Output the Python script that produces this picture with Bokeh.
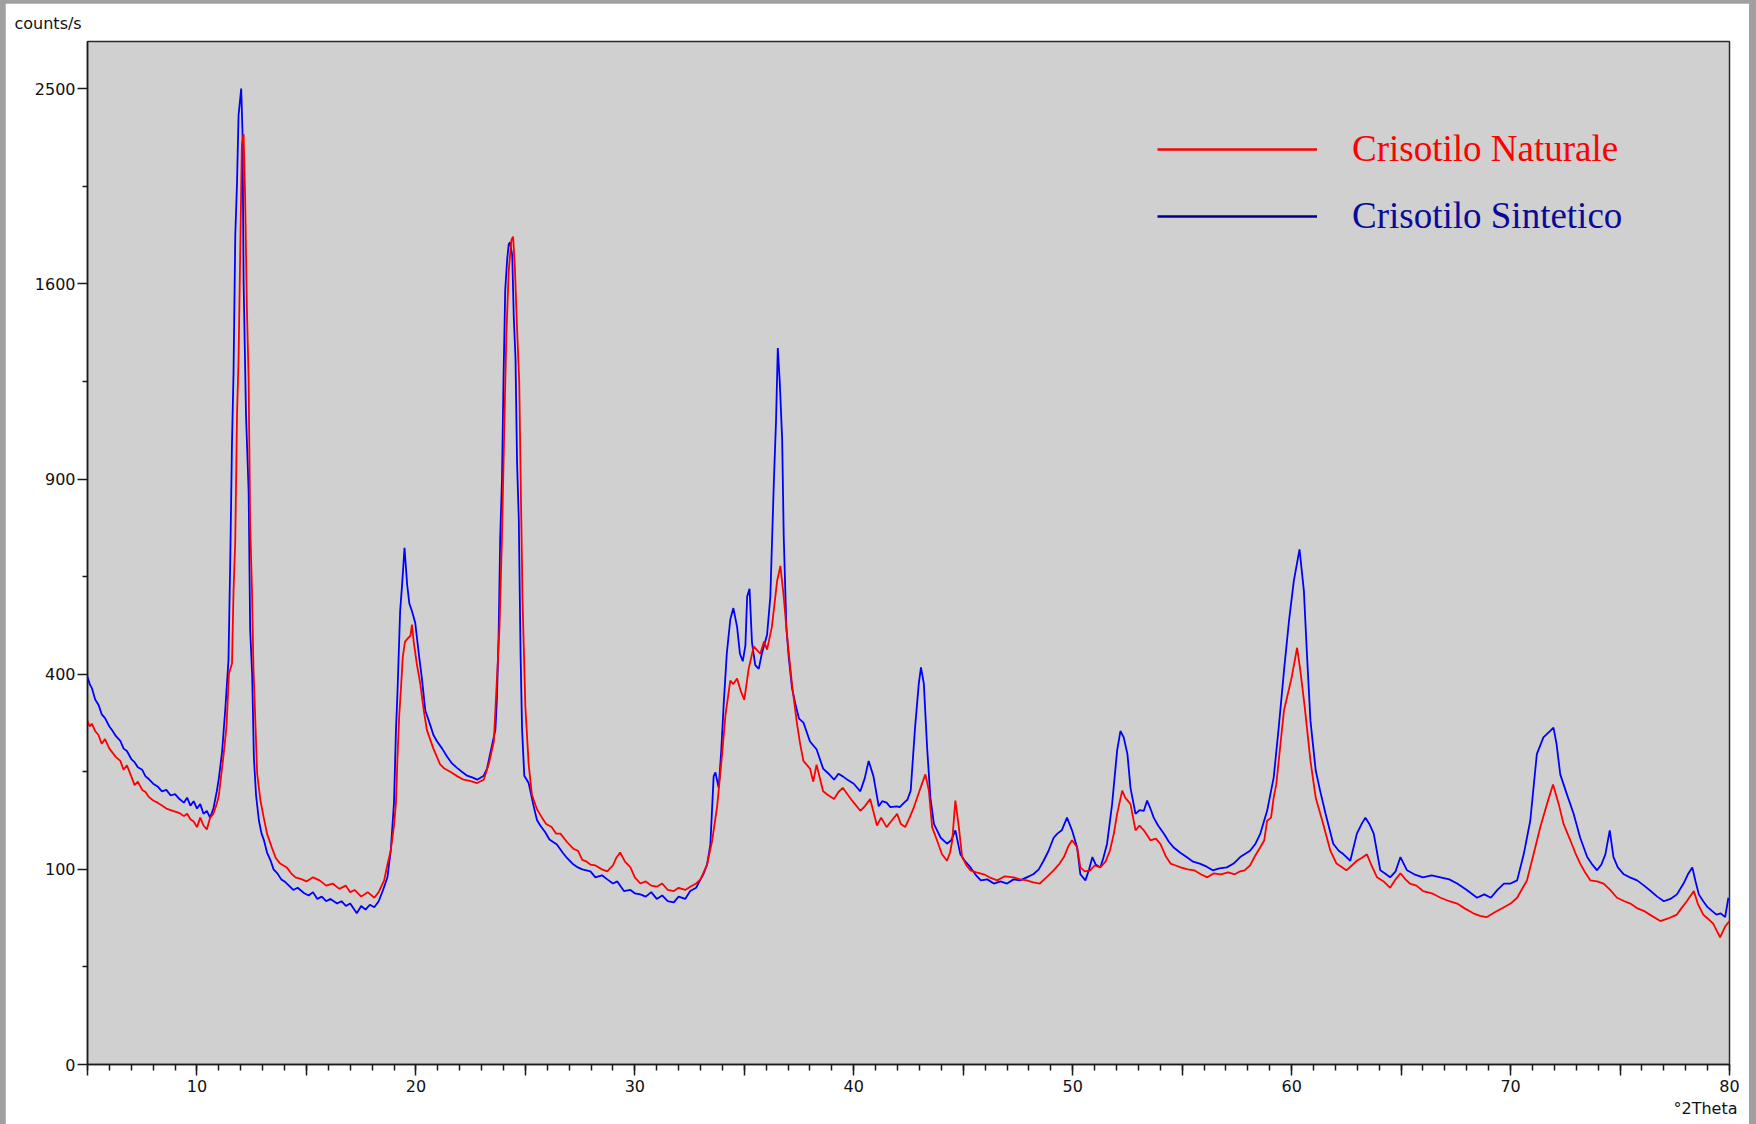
import numpy as np
from bokeh.plotting import figure
from bokeh.models import FixedTicker, Legend, LegendItem, Range1d, Title
from bokeh.layouts import column
from bokeh.embed import file_html
from bokeh.resources import INLINE

# ---------------- data ----------------
theta_sin = [5.0, 5.1, 5.2, 5.35, 5.5, 5.65, 5.8, 6.0, 6.15, 6.3, 6.5, 6.65, 6.8, 7.0, 7.15, 7.3, 7.5, 7.65, 7.8, 8.0,
             8.2, 8.4, 8.6, 8.8, 9.0, 9.2, 9.4, 9.55, 9.7, 9.85, 10.0, 10.15, 10.3, 10.45, 10.6, 10.75, 10.9, 11.0, 11.15, 11.3,
             11.44, 11.52, 11.6, 11.67, 11.75, 11.83, 11.9, 12.02, 12.08, 12.13, 12.24, 12.36, 12.43, 12.52, 12.6, 12.7, 12.83, 12.95, 13.06, 13.2,
             13.35, 13.5, 13.67, 13.85, 14.0, 14.2, 14.4, 14.6, 14.9, 15.1, 15.3, 15.5, 15.7, 15.9, 16.1, 16.4, 16.6, 16.8, 17.0, 17.3,
             17.5, 17.7, 17.9, 18.1, 18.3, 18.5, 18.7, 18.85, 19.0, 19.09, 19.16, 19.28, 19.36, 19.48, 19.6, 19.7, 19.82, 19.97, 20.13, 20.28,
             20.43, 20.66, 20.8, 20.97, 21.2, 21.42, 21.65, 21.88, 22.1, 22.34, 22.6, 22.8, 23.1, 23.25, 23.4, 23.63, 23.7, 23.78, 23.85, 23.93,
             24.0, 24.08, 24.17, 24.24, 24.3, 24.4, 24.47, 24.55, 24.62, 24.7, 24.78, 24.85, 24.95, 25.15, 25.38, 25.53, 25.68, 25.9, 26.1, 26.44,
             26.7, 26.9, 27.2, 27.4, 27.6, 27.97, 28.2, 28.5, 28.74, 29.0, 29.2, 29.5, 29.8, 30.0, 30.25, 30.5, 30.75, 31.0, 31.25, 31.5,
             31.78, 32.0, 32.3, 32.53, 32.8, 33.0, 33.15, 33.3, 33.45, 33.6, 33.68, 33.83, 33.95, 34.06, 34.2, 34.36, 34.5, 34.67, 34.8, 34.93,
             35.05, 35.13, 35.24, 35.35, 35.5, 35.66, 35.8, 36.04, 36.19, 36.35, 36.45, 36.53, 36.62, 36.73, 36.8, 36.92, 37.03, 37.18, 37.33, 37.5,
             37.7, 38.0, 38.3, 38.6, 38.85, 39.1, 39.3, 39.5, 39.75, 40.0, 40.3, 40.5, 40.68, 40.9, 41.14, 41.3, 41.5, 41.67, 41.98, 42.1,
             42.3, 42.45, 42.6, 42.8, 42.97, 43.07, 43.2, 43.35, 43.5, 43.66, 43.97, 44.26, 44.45, 44.64, 44.87, 45.1, 45.33, 45.55, 45.8, 46.1,
             46.4, 46.7, 47.0, 47.3, 47.6, 47.9, 48.2, 48.45, 48.67, 48.9, 49.13, 49.3, 49.5, 49.74, 49.97, 50.2, 50.35, 50.58, 50.75, 50.9,
             51.05, 51.26, 51.4, 51.57, 51.8, 52.03, 52.18, 52.33, 52.5, 52.64, 52.87, 53.05, 53.25, 53.4, 53.55, 53.7, 53.9, 54.16, 54.4, 54.6,
             54.9, 55.2, 55.5, 55.8, 56.1, 56.4, 56.7, 57.04, 57.35, 57.65, 57.85, 58.1, 58.35, 58.57, 58.88, 59.18, 59.41, 59.65, 59.88, 60.1,
             60.36, 60.56, 60.7, 60.86, 61.1, 61.3, 61.55, 61.9, 62.15, 62.37, 62.68, 62.98, 63.2, 63.37, 63.55, 63.75, 64.05, 64.25, 64.5, 64.75,
             64.97, 65.27, 65.6, 66.0, 66.4, 66.8, 67.2, 67.56, 68.0, 68.47, 68.8, 69.1, 69.4, 69.7, 70.0, 70.3, 70.6, 70.9, 71.2, 71.5,
             71.8, 71.96, 72.1, 72.27, 72.57, 72.88, 73.18, 73.5, 73.7, 73.95, 74.15, 74.33, 74.53, 74.7, 74.9, 75.17, 75.45, 75.78, 76.1, 76.4,
             76.7, 77.0, 77.3, 77.6, 77.9, 78.1, 78.3, 78.45, 78.6, 78.8, 79.0, 79.2, 79.4, 79.6, 79.8, 79.95]
counts_sin = [395, 380, 372, 350, 340, 322, 315, 300, 292, 283, 275, 262, 258, 245, 240, 232, 228, 218, 214, 207,
              203, 196, 198, 190, 192, 185, 180, 187, 176, 182, 172, 178, 165, 169, 160, 172, 195, 215, 258, 335,
              430, 666, 1017, 1255, 1804, 2044, 2366, 2501, 2283, 1609, 1108, 861, 496, 400, 247, 190, 156, 140, 132, 118,
              110, 100, 96, 90, 88, 84, 80, 82, 77, 75, 78, 72, 74, 70, 72, 68, 70, 66, 68, 60,
              66, 63, 67, 65, 70, 80, 92, 120, 180, 294, 365, 540, 597, 701, 605, 558, 540, 512, 444, 389,
              329, 302, 285, 274, 262, 249, 238, 231, 225, 219, 216, 213, 219, 230, 255, 294, 351, 487, 727, 894,
              1224, 1575, 1703, 1767, 1775, 1720, 1468, 1307, 953, 780, 444, 294, 219, 208, 175, 157, 150, 142, 133, 127,
              118, 112, 105, 102, 100, 98, 92, 94, 90, 86, 88, 79, 80, 77, 76, 74, 78, 72, 75, 70,
              69, 74, 72, 79, 82, 90, 96, 105, 127, 218, 224, 201, 260, 342, 443, 520, 547, 503, 443, 427,
              461, 575, 594, 468, 419, 411, 443, 485, 575, 891, 1089, 1348, 1223, 1025, 735, 503, 435, 372, 342, 314,
              307, 274, 261, 230, 222, 213, 222, 218, 212, 207, 196, 215, 242, 218, 175, 182, 180, 174, 175, 174,
              180, 184, 197, 298, 381, 414, 381, 264, 187, 152, 135, 128, 132, 144, 116, 108, 102, 95, 89, 90,
              86, 88, 86, 90, 89, 92, 95, 100, 109, 120, 135, 140, 144, 160, 144, 124, 95, 89, 100, 113,
              105, 102, 112, 128, 178, 259, 292, 281, 253, 201, 165, 170, 169, 183, 172, 160, 150, 140, 130, 124,
              118, 113, 108, 106, 103, 99, 101, 102, 106, 113, 116, 120, 128, 140, 169, 216, 298, 407, 517, 614,
              697, 589, 442, 310, 227, 197, 165, 128, 120, 116, 109, 140, 152, 160, 152, 140, 99, 96, 92, 98,
              113, 99, 95, 92, 94, 92, 90, 86, 80, 73, 76, 73, 80, 86, 86, 89, 116, 156, 253, 281,
              292, 298, 270, 221, 192, 165, 135, 113, 106, 99, 105, 116, 144, 113, 102, 95, 92, 89, 84, 79,
              74, 70, 72, 76, 86, 95, 102, 88, 76, 70, 65, 62, 59, 60, 57, 73]

theta_nat = [5.0, 5.1, 5.2, 5.35, 5.5, 5.65, 5.8, 6.0, 6.15, 6.3, 6.5, 6.65, 6.8, 7.0, 7.15, 7.3, 7.5, 7.65, 7.8, 8.0,
             8.2, 8.4, 8.6, 8.8, 9.0, 9.2, 9.4, 9.55, 9.7, 9.85, 10.0, 10.15, 10.3, 10.45, 10.6, 10.75, 10.9, 11.0, 11.2, 11.35,
             11.46, 11.6, 11.67, 11.75, 11.83, 11.9, 11.98, 12.05, 12.13, 12.2, 12.28, 12.36, 12.43, 12.51, 12.58, 12.75, 12.9, 13.05, 13.2, 13.4,
             13.6, 13.8, 14.1, 14.3, 14.5, 14.8, 15.0, 15.3, 15.6, 15.9, 16.2, 16.5, 16.8, 17.0, 17.2, 17.5, 17.8, 18.1, 18.3, 18.55,
             18.7, 18.85, 19.0, 19.09, 19.16, 19.24, 19.32, 19.4, 19.5, 19.6, 19.75, 19.82, 19.9, 20.05, 20.2, 20.36, 20.5, 20.8, 21.1, 21.3,
             21.57, 21.9, 22.18, 22.5, 22.8, 23.1, 23.33, 23.56, 23.7, 23.82, 23.93, 24.03, 24.13, 24.24, 24.36, 24.44, 24.52, 24.62, 24.72, 24.8,
             24.87, 25.0, 25.15, 25.3, 25.53, 25.76, 25.95, 26.2, 26.4, 26.6, 26.9, 27.2, 27.4, 27.6, 27.8, 27.97, 28.2, 28.5, 28.74, 29.0,
             29.15, 29.33, 29.55, 29.8, 30.0, 30.25, 30.5, 30.75, 31.0, 31.25, 31.5, 31.78, 32.0, 32.3, 32.53, 32.8, 33.0, 33.3, 33.53, 33.76,
             33.99, 34.14, 34.36, 34.5, 34.67, 34.85, 35.0, 35.2, 35.43, 35.6, 35.73, 35.9, 36.04, 36.26, 36.5, 36.65, 36.8, 36.95, 37.18, 37.4,
             37.55, 37.7, 38.0, 38.15, 38.3, 38.6, 38.85, 39.1, 39.3, 39.5, 39.75, 40.0, 40.3, 40.5, 40.75, 41.06, 41.25, 41.5, 41.7, 41.98,
             42.15, 42.35, 42.55, 42.75, 43.05, 43.27, 43.43, 43.58, 43.8, 44.03, 44.26, 44.4, 44.5, 44.64, 44.8, 44.95, 45.15, 45.33, 45.6, 45.94,
             46.2, 46.55, 46.9, 47.3, 47.6, 47.9, 48.2, 48.5, 48.8, 49.13, 49.4, 49.6, 49.8, 49.97, 50.2, 50.35, 50.55, 50.8, 51.0, 51.26,
             51.5, 51.7, 51.88, 52.03, 52.26, 52.4, 52.64, 52.87, 53.05, 53.25, 53.55, 53.8, 54.0, 54.25, 54.47, 54.7, 54.93, 55.25, 55.55, 55.85,
             56.15, 56.45, 56.77, 57.1, 57.4, 57.65, 57.85, 58.1, 58.3, 58.57, 58.75, 58.88, 59.06, 59.18, 59.3, 59.41, 59.65, 60.0, 60.25, 60.4,
             60.6, 60.86, 61.1, 61.4, 61.77, 62.05, 62.5, 62.75, 62.98, 63.2, 63.44, 63.65, 63.9, 64.2, 64.5, 64.75, 64.97, 65.2, 65.4, 65.7,
             66.0, 66.4, 66.8, 67.2, 67.56, 67.9, 68.3, 68.6, 68.9, 69.3, 69.7, 70.0, 70.3, 70.5, 70.75, 71.05, 71.36, 71.66, 71.94, 72.2,
             72.42, 72.73, 72.95, 73.18, 73.4, 73.65, 73.95, 74.25, 74.55, 74.86, 75.2, 75.47, 75.8, 76.08, 76.45, 76.84, 77.2, 77.6, 77.8, 78.05,
             78.37, 78.55, 78.8, 79.0, 79.26, 79.45, 79.57, 79.8, 80.0]
counts_nat = [310, 300, 305, 292, 285, 270, 278, 262, 255, 248, 242, 228, 235, 218, 205, 210, 198, 195, 188, 183,
              180, 176, 172, 170, 168, 166, 162, 165, 158, 155, 148, 160, 150, 145, 160, 165, 178, 190, 247, 300,
              401, 422, 589, 723, 1108, 1310, 1755, 2224, 2273, 1975, 1503, 1233, 766, 597, 413, 222, 183, 160, 140, 125,
              112, 106, 102, 96, 92, 90, 88, 92, 89, 84, 86, 81, 84, 78, 80, 74, 78, 73, 78, 89,
              105, 120, 150, 180, 249, 321, 373, 436, 469, 475, 483, 508, 469, 419, 381, 329, 294, 262, 237, 230,
              225, 218, 213, 211, 208, 213, 237, 274, 389, 503, 727, 1041, 1394, 1654, 1784, 1800, 1670, 1424, 1224, 837,
              567, 336, 237, 191, 171, 160, 152, 148, 140, 140, 130, 122, 120, 110, 108, 105, 104, 100, 98, 104,
              112, 118, 108, 102, 92, 86, 88, 84, 83, 86, 80, 79, 82, 80, 83, 86, 90, 105, 131, 175,
              254, 321, 387, 380, 391, 365, 349, 411, 459, 450, 443, 470, 452, 503, 614, 653, 575, 485, 379, 307,
              270, 242, 230, 210, 236, 196, 190, 185, 195, 201, 190, 180, 169, 175, 185, 150, 160, 148, 155, 165,
              152, 148, 160, 174, 201, 221, 197, 148, 132, 116, 109, 118, 132, 183, 148, 113, 104, 99, 97, 95,
              92, 89, 93, 92, 90, 89, 87, 86, 92, 99, 106, 113, 125, 132, 124, 102, 98, 99, 104, 102,
              108, 120, 140, 165, 197, 187, 178, 144, 150, 144, 132, 134, 128, 114, 106, 104, 102, 100, 99, 95,
              92, 96, 95, 97, 95, 98, 99, 104, 113, 124, 132, 156, 160, 187, 206, 242, 329, 393, 456, 407,
              335, 242, 187, 156, 120, 106, 99, 104, 109, 112, 116, 104, 92, 88, 82, 90, 96, 90, 86, 84,
              79, 77, 73, 70, 68, 64, 60, 58, 57, 61, 65, 68, 73, 80, 89, 116, 148, 178, 206, 178,
              152, 132, 118, 106, 97, 89, 88, 86, 80, 73, 70, 68, 64, 62, 58, 54, 56, 59, 64, 70,
              79, 68, 59, 56, 52, 46, 42.5, 50, 54]

series_names = ["Crisotilo Naturale", "Crisotilo Sintetico"]
x_major_ticks = list(range(5, 81, 5))
x_minor_ticks = list(range(5, 81))
x_label_every = 10
y_tick_counts = [0, 100, 400, 900, 1600, 2500]
y_minor_counts = [25, 225, 625, 1225, 2025]
y_top_counts = 2748
y_caption = "counts/s"
x_caption = "°2Theta"

# ---------------- figure ----------------
p = figure(width=1744, height=1121, output_backend="svg", toolbar_location=None,
           x_range=Range1d(5, 80), y_range=Range1d(0, float(np.sqrt(y_top_counts))),
           min_border_left=82, min_border_right=20, min_border_top=37, min_border_bottom=60,
           background_fill_color="#D0D0D0", border_fill_color="white",
           outline_line_color="#2a2a2a", outline_line_width=1.5)
p.title.text = y_caption
p.title.align = "left"
p.title.offset = -73
p.title.standoff = 17
p.title.text_font = "DejaVu Sans"
p.title.text_font_size = "16px"
p.title.text_font_style = "normal"
p.title.text_color = "#111111"
p.xgrid.visible = False
p.ygrid.visible = False

p.add_layout(Title(text=x_caption, align="right", offset=-8, standoff=4,
                   text_font="DejaVu Sans", text_font_size="16px", text_font_style="normal",
                   text_color="#111111"), "below")

p.xaxis.ticker = FixedTicker(ticks=x_major_ticks, minor_ticks=x_minor_ticks)
p.xaxis.major_label_overrides = {t: (str(t) if t % x_label_every == 0 else "") for t in x_major_ticks}
p.yaxis.ticker = FixedTicker(ticks=[float(np.sqrt(v)) for v in y_tick_counts],
                             minor_ticks=[float(np.sqrt(v)) for v in y_minor_counts])
p.yaxis.major_label_overrides = {float(np.sqrt(v)): str(v) for v in y_tick_counts}

for ax in (p.xaxis[0], p.yaxis[0]):
    ax.axis_line_color = "#1a1a1a"
    ax.axis_line_width = 1.5
    ax.major_tick_line_color = "#1a1a1a"
    ax.minor_tick_line_color = "#1a1a1a"
    ax.major_tick_line_width = 1.5
    ax.minor_tick_line_width = 1.5
    ax.major_tick_in = 0
    ax.minor_tick_in = 0
    ax.major_label_text_font = "DejaVu Sans"
    ax.major_label_text_font_size = "16px"
    ax.major_label_text_color = "#111111"
p.xaxis.major_tick_out = 11
p.xaxis.minor_tick_out = 6
p.xaxis.major_label_standoff = 4
p.yaxis.major_tick_out = 10
p.yaxis.minor_tick_out = 5
p.yaxis.major_label_standoff = 2

# data lines
p.line(theta_sin, np.sqrt(counts_sin), line_color="#0000FF", line_width=1.8)
p.line(theta_nat, np.sqrt(counts_nat), line_color="#FF0000", line_width=1.8)

# legend swatches: single-point renderers (draw nothing in the plot)
r_leg_nat = p.line(theta_nat[:1], np.sqrt(counts_nat[:1]), line_color="#FF0000", line_width=2.3)
r_leg_sin = p.line(theta_sin[:1], np.sqrt(counts_sin[:1]), line_color="#00008F", line_width=2.3)

def make_legend(name, rend, color, loc):
    return Legend(items=[LegendItem(label=name, renderers=[rend])], location=loc,
                  glyph_width=160, glyph_height=40, label_height=40, label_standoff=35,
                  label_text_font="Liberation Serif", label_text_font_size="37px",
                  label_text_color=color, padding=0, margin=0, spacing=0,
                  border_line_alpha=0, background_fill_alpha=0)

p.add_layout(make_legend(series_names[0], r_leg_nat, "#FF0000", (1070, 894)))
p.add_layout(make_legend(series_names[1], r_leg_sin, "#0A0A96", (1070, 827)))

layout = column(p, styles={"background-color": "#A0A0A0", "padding": "3px 7px 0px 5px"})

open("out.html", "w").write(file_html(layout, INLINE))
